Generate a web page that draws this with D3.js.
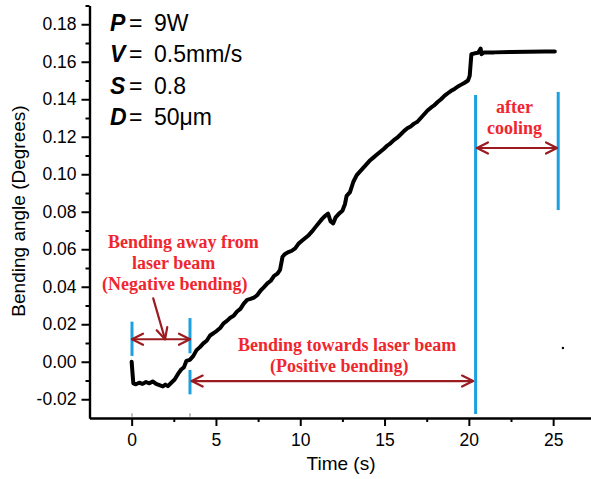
<!DOCTYPE html>
<html>
<head>
<meta charset="utf-8">
<script src="https://cdn.jsdelivr.net/npm/d3@7"></script>
<style>
  html, body { margin: 0; padding: 0; background: #fff; }
  svg { display: block; }
</style>
</head>
<body>
<svg id="chart" width="591" height="479"></svg>
<script>
// ---- data ----
const time = [0.00,0.05,0.10,0.25,0.45,0.65,0.85,1.05,1.25,1.45,1.65,1.85,2.00,2.15,2.35,2.55,2.75,2.95,3.10,3.25,3.45,3.65,3.85,4.05,4.25,4.45,4.65,4.85,5.05,5.25,5.45,5.65,5.85,6.05,6.25,6.45,6.65,6.85,7.05,7.25,7.45,7.65,7.85,8.05,8.25,8.45,8.65,8.80,8.95,9.10,9.30,9.50,9.70,9.90,10.10,10.30,10.50,10.70,10.90,11.10,11.30,11.50,11.65,11.80,11.95,12.10,12.30,12.50,12.65,12.75,12.95,13.15,13.35,13.55,13.75,13.95,14.15,14.35,14.55,14.75,14.95,15.15,15.35,15.55,15.75,15.95,16.15,16.35,16.55,16.75,16.95,17.15,17.35,17.55,17.75,17.95,18.15,18.35,18.55,18.75,18.95,19.15,19.35,19.55,19.75,19.95,20.05,20.15,20.35,20.55,20.70,20.75,20.90,21.50,22.50,23.50,24.50,25.10];
const angle = [0.0000,-0.0060,-0.0115,-0.0120,-0.0112,-0.0118,-0.0108,-0.0115,-0.0105,-0.0118,-0.0125,-0.0132,-0.0122,-0.0130,-0.0112,-0.0095,-0.0065,-0.0040,-0.0030,0.0005,0.0010,0.0030,0.0062,0.0078,0.0098,0.0112,0.0140,0.0152,0.0165,0.0180,0.0205,0.0218,0.0235,0.0245,0.0268,0.0282,0.0310,0.0330,0.0335,0.0342,0.0355,0.0380,0.0398,0.0418,0.0432,0.0458,0.0470,0.0490,0.0560,0.0575,0.0585,0.0592,0.0605,0.0630,0.0645,0.0660,0.0675,0.0695,0.0718,0.0740,0.0762,0.0780,0.0790,0.0748,0.0738,0.0770,0.0790,0.0805,0.0840,0.0885,0.0905,0.0960,0.0995,0.1015,0.1035,0.1055,0.1075,0.1090,0.1105,0.1120,0.1135,0.1152,0.1165,0.1182,0.1195,0.1212,0.1230,0.1245,0.1255,0.1270,0.1280,0.1300,0.1320,0.1340,0.1355,0.1368,0.1385,0.1400,0.1418,0.1432,0.1445,0.1455,0.1468,0.1478,0.1488,0.1500,0.1525,0.1640,0.1645,0.1648,0.1670,0.1640,0.1650,0.1650,0.1652,0.1653,0.1655,0.1655];
const strayPoint = [25.58, 0.0073];

const xMajorTicks = [0, 5, 10, 15, 20, 25];
const xMinorTicks = [2.5, 7.5, 12.5, 17.5, 22.5, 27.5];
const yMajorTicks = [-0.02, 0.00, 0.02, 0.04, 0.06, 0.08, 0.10, 0.12, 0.14, 0.16, 0.18];
const yMinorTicks = [-0.01, 0.01, 0.03, 0.05, 0.07, 0.09, 0.11, 0.13, 0.15, 0.17, 0.19];

// blue marker segments: time, low value, high value
const markerTime = [0.02, 3.46, 3.46, 20.4, 25.3];
const markerLow  = [0.0031, 0.0045, -0.0174, -0.0279, 0.0809];
const markerHigh = [0.0214, 0.0233, -0.0044, 0.1423, 0.1439];

// arrows (data coords): start t, start v, end t, end v, double-headed?
const arrowT1 = [0.02, 1.28, 3.56, 20.48];
const arrowV1 = [0.0120, 0.0338, -0.0103, 0.1140];
const arrowT2 = [3.46, 1.98, 20.25, 25.23];
const arrowV2 = [0.0120, 0.0120, -0.0103, 0.1140];
const arrowBoth = [true, false, true, true];

const paramSymbols = ["P", "V", "S", "D"];
const paramValues = ["9W", "0.5mm/s", "0.8", "50\u03bcm"];

const noteLines = ["Bending away from", "laser beam", "(Negative bending)",
                   "Bending towards laser beam", "(Positive bending)", "after", "cooling"];

// ---- drawing ----
const svg = d3.select("#chart");
const x = d3.scaleLinear().domain([-2.5, 27.5]).range([89.5, 595.3]);
const y = d3.scaleLinear().domain([-0.03, 0.19]).range([418, 5.5]);

const RED = "#f0262e", DARKRED = "#9a1c20", BLUE = "#1ba1e2";

// axes
function styleAxis(g) {
  g.selectAll("path.domain").attr("stroke", "#000").attr("stroke-width", 2.2);
  g.selectAll(".tick line").attr("stroke", "#000").attr("stroke-width", 2);
  g.selectAll(".tick text").attr("fill", "#000")
    .style("font-family", "'Liberation Sans', Arial, sans-serif").style("font-size", "17.5px");
}
const fmt = d => d.toFixed(2);
svg.append("g").attr("transform", "translate(0,418)")
  .call(d3.axisBottom(x).tickValues(xMinorTicks).tickSize(4).tickSizeOuter(0).tickFormat(""))
  .call(styleAxis);
svg.append("g").attr("transform", "translate(0,418)")
  .call(d3.axisBottom(x).tickValues(xMajorTicks).tickSize(8).tickPadding(8).tickSizeOuter(0))
  .call(styleAxis);
svg.append("g").attr("transform", "translate(89.5,0)")
  .call(d3.axisLeft(y).tickValues(yMinorTicks).tickSize(4).tickSizeOuter(0).tickFormat(""))
  .call(styleAxis);
svg.append("g").attr("transform", "translate(89.5,0)")
  .call(d3.axisLeft(y).tickValues(yMajorTicks).tickSize(8).tickPadding(5).tickSizeOuter(0).tickFormat(fmt))
  .call(styleAxis);

// axis titles
svg.append("text").attr("x", 341).attr("y", 470).attr("text-anchor", "middle")
  .style("font-family", "'Liberation Sans', Arial, sans-serif").style("font-size", "19px")
  .text("Time (s)");
svg.append("text").attr("transform", "translate(25,211) rotate(-90)").attr("text-anchor", "middle")
  .style("font-family", "'Liberation Sans', Arial, sans-serif").style("font-size", "19px")
  .text("Bending angle (Degrees)");

// small grey stubs near the axis
svg.append("g").selectAll("line").data([markerTime[0], markerTime[1]]).join("line")
  .attr("x1", d => x(d)).attr("x2", d => x(d))
  .attr("y1", y(-0.0275)).attr("y2", y(-0.0293))
  .attr("stroke", "#aaa").attr("stroke-width", 1.5);

// blue marker lines
svg.append("g").selectAll("line").data(markerTime).join("line")
  .attr("x1", d => x(d)).attr("x2", d => x(d))
  .attr("y1", (d, i) => y(markerLow[i])).attr("y2", (d, i) => y(markerHigh[i]))
  .attr("stroke", BLUE).attr("stroke-width", 3);

// curve
const pts = time.map((t, i) => [t, angle[i]]);
svg.append("path").datum(pts)
  .attr("d", d3.line().x(d => x(d[0])).y(d => y(d[1])))
  .attr("fill", "none").attr("stroke", "#000").attr("stroke-width", 4)
  .attr("stroke-linejoin", "round").attr("stroke-linecap", "round");
svg.append("circle").attr("cx", x(strayPoint[0])).attr("cy", y(strayPoint[1])).attr("r", 1.2).attr("fill", "#000");

// arrows
const ag = svg.append("g").attr("stroke", DARKRED).attr("stroke-width", 2.2).attr("fill", "none")
  .attr("stroke-linecap", "round").attr("stroke-linejoin", "round");
function head(px, py, fromx, fromy) {
  const a = Math.atan2(py - fromy, px - fromx);
  const L = 11, W = 5.5;
  const bx = px - L * Math.cos(a), by = py - L * Math.sin(a);
  const nx = -Math.sin(a), ny = Math.cos(a);
  return `M${bx + W * nx},${by + W * ny}L${px},${py}L${bx - W * nx},${by - W * ny}`;
}
arrowT1.forEach((t, i) => {
  const x1 = x(t), y1 = y(arrowV1[i]), x2 = x(arrowT2[i]), y2 = y(arrowV2[i]);
  ag.append("path").attr("d", `M${x1},${y1}L${x2},${y2}`);
  ag.append("path").attr("d", head(x2, y2, x1, y1));
  if (arrowBoth[i]) ag.append("path").attr("d", head(x1, y1, x2, y2));
});

// parameter block
const pg = svg.append("g").style("font-family", "'Liberation Sans', Arial, sans-serif").style("font-size", "23px");
paramSymbols.forEach((s, i) => {
  const by = 31 + i * 31.3;
  pg.append("text").attr("x", 110).attr("y", by).style("font-weight", "bold").style("font-style", "italic").text(s);
  pg.append("text").attr("x", 129).attr("y", by).text("=");
  pg.append("text").attr("x", 154).attr("y", by).text(paramValues[i]);
});

// red notes
const notePos = [[108, 248], [132, 269], [102, 290], [238, 351], [270, 372], [496, 113], [487, 134]];
svg.append("g").selectAll("text").data(noteLines).join("text")
  .attr("x", (d, i) => notePos[i][0]).attr("y", (d, i) => notePos[i][1])
  .attr("fill", RED)
  .style("font-family", "'Liberation Serif', 'Times New Roman', serif")
  .style("font-weight", "bold").style("font-size", "18px")
  .text(d => d);
</script>
</body>
</html>
